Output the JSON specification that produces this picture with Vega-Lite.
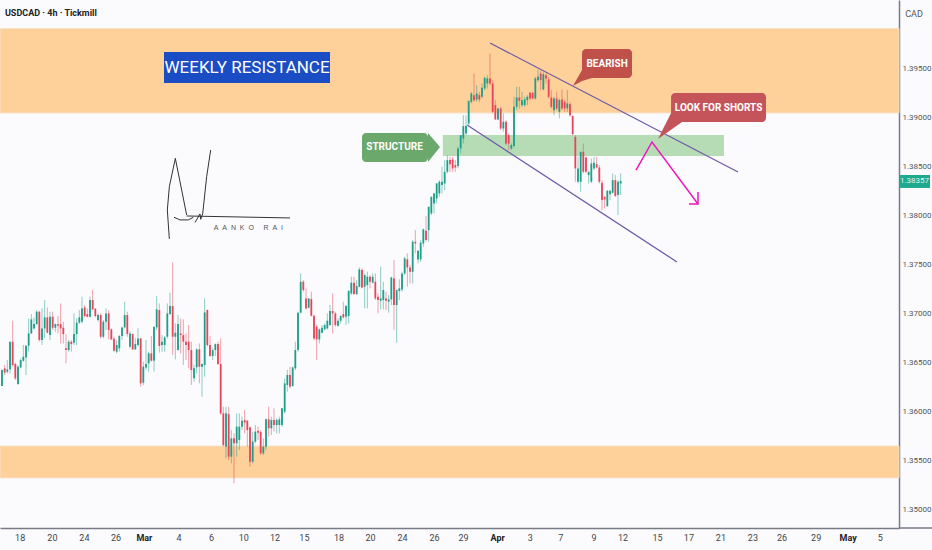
{
  "$schema": "https://vega.github.io/schema/vega-lite/v5.json",
  "width": 899,
  "height": 528,
  "padding": {"left": 0, "top": 0, "right": 33, "bottom": 22},
  "autosize": {"type": "none"},
  "background": "#fbfbfe",
  "datasets": {
    "candles": [
      {"i":0,"h":1.36435,"o":1.36265,"c":1.36428,"l":1.36265},
      {"i":1,"h":1.36479,"o":1.36445,"c":1.36401,"l":1.36377},
      {"i":2,"h":1.3653,"o":1.36411,"c":1.36435,"l":1.36394},
      {"i":3,"h":1.36717,"o":1.36435,"c":1.36717,"l":1.36394},
      {"i":4,"h":1.36931,"o":1.36717,"c":1.36479,"l":1.36462},
      {"i":5,"h":1.36503,"o":1.36489,"c":1.36343,"l":1.36326},
      {"i":6,"h":1.36479,"o":1.36285,"c":1.36462,"l":1.36275},
      {"i":7,"h":1.36547,"o":1.36455,"c":1.3653,"l":1.36445},
      {"i":8,"h":1.36683,"o":1.36523,"c":1.36564,"l":1.36513},
      {"i":9,"h":1.36683,"o":1.36557,"c":1.36676,"l":1.36377},
      {"i":10,"h":1.36955,"o":1.36676,"c":1.36802,"l":1.36615},
      {"i":11,"h":1.36999,"o":1.36802,"c":1.36945,"l":1.36795},
      {"i":12,"h":1.36965,"o":1.36853,"c":1.36897,"l":1.36843},
      {"i":13,"h":1.3704,"o":1.36897,"c":1.37023,"l":1.36887},
      {"i":14,"h":1.3703,"o":1.37023,"c":1.36734,"l":1.36717},
      {"i":15,"h":1.37057,"o":1.36734,"c":1.36853,"l":1.36683},
      {"i":16,"h":1.37142,"o":1.36853,"c":1.36965,"l":1.36751},
      {"i":17,"h":1.37067,"o":1.36965,"c":1.36809,"l":1.36802},
      {"i":18,"h":1.37023,"o":1.36785,"c":1.36972,"l":1.36734},
      {"i":19,"h":1.37023,"o":1.36972,"c":1.3686,"l":1.36836},
      {"i":20,"h":1.36904,"o":1.3686,"c":1.36897,"l":1.36819},
      {"i":21,"h":1.36979,"o":1.36894,"c":1.3688,"l":1.36802},
      {"i":22,"h":1.37108,"o":1.36897,"c":1.36853,"l":1.367},
      {"i":23,"h":1.36921,"o":1.3686,"c":1.36795,"l":1.367},
      {"i":24,"h":1.36795,"o":1.36649,"c":1.36632,"l":1.36496},
      {"i":25,"h":1.36734,"o":1.36632,"c":1.36717,"l":1.36615},
      {"i":26,"h":1.36734,"o":1.36717,"c":1.36693,"l":1.36615},
      {"i":27,"h":1.37006,"o":1.36707,"c":1.36795,"l":1.36683},
      {"i":28,"h":1.36955,"o":1.36795,"c":1.36911,"l":1.36683},
      {"i":29,"h":1.3704,"o":1.36911,"c":1.36965,"l":1.36897},
      {"i":30,"h":1.37176,"o":1.36921,"c":1.37057,"l":1.36904},
      {"i":31,"h":1.37091,"o":1.37067,"c":1.36979,"l":1.36965},
      {"i":32,"h":1.37057,"o":1.36999,"c":1.36972,"l":1.36965},
      {"i":33,"h":1.37176,"o":1.36972,"c":1.37142,"l":1.36965},
      {"i":34,"h":1.37244,"o":1.37142,"c":1.37047,"l":1.3704},
      {"i":35,"h":1.37057,"o":1.37054,"c":1.36979,"l":1.36965},
      {"i":36,"h":1.37006,"o":1.36938,"c":1.36989,"l":1.36921},
      {"i":37,"h":1.37006,"o":1.36989,"c":1.36768,"l":1.36751},
      {"i":38,"h":1.36938,"o":1.36768,"c":1.36921,"l":1.36751},
      {"i":39,"h":1.37057,"o":1.36921,"c":1.37006,"l":1.36836},
      {"i":40,"h":1.3704,"o":1.37006,"c":1.36836,"l":1.36741},
      {"i":41,"h":1.36853,"o":1.36843,"c":1.36741,"l":1.36734},
      {"i":42,"h":1.36768,"o":1.36748,"c":1.36625,"l":1.36615},
      {"i":43,"h":1.36734,"o":1.36615,"c":1.36683,"l":1.36598},
      {"i":44,"h":1.36785,"o":1.36649,"c":1.36775,"l":1.36615},
      {"i":45,"h":1.3687,"o":1.36775,"c":1.36863,"l":1.36734},
      {"i":46,"h":1.37125,"o":1.36863,"c":1.36989,"l":1.36853},
      {"i":47,"h":1.37023,"o":1.36989,"c":1.36795,"l":1.36768},
      {"i":48,"h":1.36819,"o":1.36666,"c":1.36802,"l":1.36649},
      {"i":49,"h":1.36802,"o":1.36795,"c":1.36639,"l":1.36632},
      {"i":50,"h":1.36751,"o":1.36639,"c":1.36693,"l":1.36632},
      {"i":51,"h":1.36853,"o":1.36683,"c":1.36751,"l":1.36666},
      {"i":52,"h":1.36751,"o":1.36751,"c":1.36292,"l":1.36258},
      {"i":53,"h":1.36513,"o":1.36299,"c":1.36462,"l":1.36275},
      {"i":54,"h":1.36734,"o":1.36455,"c":1.36489,"l":1.36428},
      {"i":55,"h":1.36615,"o":1.36496,"c":1.36598,"l":1.36411},
      {"i":56,"h":1.36775,"o":1.36598,"c":1.36523,"l":1.36513},
      {"i":57,"h":1.3687,"o":1.36523,"c":1.3687,"l":1.36411},
      {"i":58,"h":1.37183,"o":1.36863,"c":1.37047,"l":1.36836},
      {"i":59,"h":1.37108,"o":1.3704,"c":1.36673,"l":1.36605},
      {"i":60,"h":1.36785,"o":1.36683,"c":1.36717,"l":1.36615},
      {"i":61,"h":1.36775,"o":1.36683,"c":1.36761,"l":1.36615},
      {"i":62,"h":1.37108,"o":1.36768,"c":1.37006,"l":1.36751},
      {"i":63,"h":1.37217,"o":1.36999,"c":1.37081,"l":1.36989},
      {"i":64,"h":1.37526,"o":1.37081,"c":1.36768,"l":1.36581},
      {"i":65,"h":1.36904,"o":1.36768,"c":1.36809,"l":1.36537},
      {"i":66,"h":1.36989,"o":1.36632,"c":1.36897,"l":1.36625},
      {"i":67,"h":1.36955,"o":1.36802,"c":1.36785,"l":1.36598},
      {"i":68,"h":1.36945,"o":1.36785,"c":1.36717,"l":1.36479},
      {"i":69,"h":1.36802,"o":1.36717,"c":1.36683,"l":1.3653},
      {"i":70,"h":1.36887,"o":1.36717,"c":1.36632,"l":1.36445},
      {"i":71,"h":1.36717,"o":1.36632,"c":1.36428,"l":1.36275},
      {"i":72,"h":1.36479,"o":1.36343,"c":1.36445,"l":1.36309},
      {"i":73,"h":1.36649,"o":1.36455,"c":1.36639,"l":1.36394},
      {"i":74,"h":1.367,"o":1.36639,"c":1.36462,"l":1.36292},
      {"i":75,"h":1.36496,"o":1.36462,"c":1.36489,"l":1.36156},
      {"i":76,"h":1.37159,"o":1.36479,"c":1.37016,"l":1.3636},
      {"i":77,"h":1.37047,"o":1.3704,"c":1.36683,"l":1.36666},
      {"i":78,"h":1.36775,"o":1.36683,"c":1.36571,"l":1.36564},
      {"i":79,"h":1.36649,"o":1.36571,"c":1.36632,"l":1.3653},
      {"i":80,"h":1.367,"o":1.36632,"c":1.36693,"l":1.36571},
      {"i":81,"h":1.36717,"o":1.36693,"c":1.36489,"l":1.36479},
      {"i":82,"h":1.36751,"o":1.36489,"c":1.35986,"l":1.35969},
      {"i":83,"h":1.36054,"o":1.35986,"c":1.35663,"l":1.35646},
      {"i":84,"h":1.36054,"o":1.35646,"c":1.35986,"l":1.35527},
      {"i":85,"h":1.36054,"o":1.35979,"c":1.35544,"l":1.3551},
      {"i":86,"h":1.35816,"o":1.35544,"c":1.35731,"l":1.35476},
      {"i":87,"h":1.35782,"o":1.35731,"c":1.3568,"l":1.35272},
      {"i":88,"h":1.35986,"o":1.3568,"c":1.3585,"l":1.35544},
      {"i":89,"h":1.35986,"o":1.35714,"c":1.3585,"l":1.35612},
      {"i":90,"h":1.35952,"o":1.3585,"c":1.35911,"l":1.35816},
      {"i":91,"h":1.3602,"o":1.35918,"c":1.35891,"l":1.35782},
      {"i":92,"h":1.35918,"o":1.35911,"c":1.35816,"l":1.35646},
      {"i":93,"h":1.3585,"o":1.35843,"c":1.35493,"l":1.35442},
      {"i":94,"h":1.35799,"o":1.35493,"c":1.35697,"l":1.35476},
      {"i":95,"h":1.35867,"o":1.35697,"c":1.35799,"l":1.3568},
      {"i":96,"h":1.3585,"o":1.35809,"c":1.35789,"l":1.35714},
      {"i":97,"h":1.35816,"o":1.35796,"c":1.35578,"l":1.35561},
      {"i":98,"h":1.35731,"o":1.35578,"c":1.35646,"l":1.35561},
      {"i":99,"h":1.35935,"o":1.35646,"c":1.35925,"l":1.35612},
      {"i":100,"h":1.36054,"o":1.35925,"c":1.35833,"l":1.35748},
      {"i":101,"h":1.35952,"o":1.35833,"c":1.35918,"l":1.35765},
      {"i":102,"h":1.36037,"o":1.35918,"c":1.35867,"l":1.35799},
      {"i":103,"h":1.35935,"o":1.35867,"c":1.35918,"l":1.35782},
      {"i":104,"h":1.35952,"o":1.35867,"c":1.35925,"l":1.35782},
      {"i":105,"h":1.36037,"o":1.35867,"c":1.36037,"l":1.3585},
      {"i":106,"h":1.36343,"o":1.36003,"c":1.36292,"l":1.35986},
      {"i":107,"h":1.36428,"o":1.36275,"c":1.36377,"l":1.36207},
      {"i":108,"h":1.36462,"o":1.36377,"c":1.36258,"l":1.36241},
      {"i":109,"h":1.36462,"o":1.36265,"c":1.36455,"l":1.36258},
      {"i":110,"h":1.36717,"o":1.36445,"c":1.36632,"l":1.36428},
      {"i":111,"h":1.37023,"o":1.36632,"c":1.37013,"l":1.36615},
      {"i":112,"h":1.37414,"o":1.37013,"c":1.37329,"l":1.37006},
      {"i":113,"h":1.37346,"o":1.37329,"c":1.37244,"l":1.37227},
      {"i":114,"h":1.37261,"o":1.37159,"c":1.37057,"l":1.37047},
      {"i":115,"h":1.37159,"o":1.37064,"c":1.37159,"l":1.37057},
      {"i":116,"h":1.37227,"o":1.37152,"c":1.36982,"l":1.36972},
      {"i":117,"h":1.36989,"o":1.36982,"c":1.36751,"l":1.36734},
      {"i":118,"h":1.36887,"o":1.3687,"c":1.36741,"l":1.3653},
      {"i":119,"h":1.36853,"o":1.36741,"c":1.36843,"l":1.367},
      {"i":120,"h":1.36887,"o":1.36809,"c":1.3686,"l":1.36802},
      {"i":121,"h":1.36904,"o":1.36843,"c":1.36887,"l":1.36836},
      {"i":122,"h":1.37006,"o":1.36853,"c":1.36931,"l":1.36843},
      {"i":123,"h":1.37091,"o":1.36887,"c":1.3703,"l":1.36877},
      {"i":124,"h":1.3721,"o":1.3703,"c":1.37006,"l":1.36802},
      {"i":125,"h":1.37023,"o":1.37006,"c":1.36887,"l":1.3687},
      {"i":126,"h":1.36955,"o":1.3688,"c":1.36931,"l":1.3687},
      {"i":127,"h":1.36989,"o":1.36931,"c":1.36979,"l":1.36904},
      {"i":128,"h":1.37125,"o":1.36999,"c":1.36965,"l":1.36955},
      {"i":129,"h":1.37091,"o":1.36972,"c":1.37081,"l":1.36887},
      {"i":130,"h":1.37244,"o":1.36979,"c":1.37234,"l":1.36904},
      {"i":131,"h":1.3738,"o":1.3721,"c":1.37319,"l":1.37193},
      {"i":132,"h":1.3738,"o":1.37319,"c":1.37203,"l":1.37193},
      {"i":133,"h":1.37346,"o":1.37203,"c":1.37285,"l":1.37193},
      {"i":134,"h":1.37475,"o":1.37278,"c":1.37455,"l":1.37271},
      {"i":135,"h":1.37465,"o":1.37448,"c":1.37271,"l":1.37261},
      {"i":136,"h":1.37414,"o":1.37278,"c":1.37397,"l":1.37057},
      {"i":137,"h":1.37431,"o":1.37295,"c":1.3738,"l":1.37057},
      {"i":138,"h":1.37397,"o":1.3738,"c":1.37329,"l":1.37261},
      {"i":139,"h":1.37414,"o":1.37319,"c":1.3738,"l":1.37312},
      {"i":140,"h":1.37414,"o":1.37329,"c":1.37159,"l":1.37142},
      {"i":141,"h":1.3721,"o":1.37176,"c":1.37142,"l":1.37006},
      {"i":142,"h":1.37482,"o":1.37135,"c":1.37159,"l":1.37047},
      {"i":143,"h":1.37329,"o":1.37142,"c":1.37244,"l":1.37047},
      {"i":144,"h":1.37227,"o":1.37159,"c":1.37135,"l":1.3704},
      {"i":145,"h":1.37193,"o":1.37125,"c":1.37149,"l":1.37013},
      {"i":146,"h":1.3738,"o":1.37149,"c":1.37373,"l":1.37091},
      {"i":147,"h":1.3755,"o":1.37363,"c":1.37091,"l":1.36836},
      {"i":148,"h":1.37251,"o":1.37091,"c":1.37244,"l":1.36707},
      {"i":149,"h":1.37353,"o":1.37234,"c":1.37261,"l":1.37142},
      {"i":150,"h":1.37431,"o":1.37251,"c":1.37414,"l":1.37227},
      {"i":151,"h":1.37584,"o":1.37414,"c":1.37567,"l":1.37397},
      {"i":152,"h":1.37618,"o":1.37557,"c":1.37475,"l":1.37278},
      {"i":153,"h":1.37499,"o":1.37475,"c":1.37431,"l":1.37312},
      {"i":154,"h":1.37754,"o":1.37431,"c":1.37737,"l":1.37312},
      {"i":155,"h":1.37856,"o":1.37737,"c":1.3772,"l":1.37618},
      {"i":156,"h":1.37652,"o":1.37557,"c":1.37645,"l":1.37516},
      {"i":157,"h":1.37754,"o":1.37557,"c":1.37727,"l":1.37533},
      {"i":158,"h":1.37873,"o":1.3772,"c":1.37863,"l":1.37686},
      {"i":159,"h":1.37999,"o":1.37849,"c":1.37754,"l":1.37737},
      {"i":160,"h":1.38094,"o":1.37856,"c":1.38094,"l":1.37737},
      {"i":161,"h":1.38196,"o":1.38026,"c":1.38196,"l":1.38009},
      {"i":162,"h":1.38237,"o":1.38128,"c":1.3823,"l":1.38026},
      {"i":163,"h":1.38332,"o":1.38179,"c":1.38332,"l":1.38128},
      {"i":164,"h":1.38366,"o":1.3823,"c":1.38349,"l":1.38196},
      {"i":165,"h":1.38502,"o":1.38315,"c":1.38349,"l":1.3823},
      {"i":166,"h":1.3857,"o":1.38332,"c":1.38451,"l":1.38264},
      {"i":167,"h":1.38621,"o":1.38451,"c":1.3857,"l":1.38434},
      {"i":168,"h":1.38604,"o":1.3857,"c":1.38529,"l":1.38451},
      {"i":169,"h":1.38604,"o":1.38577,"c":1.38485,"l":1.38451},
      {"i":170,"h":1.3857,"o":1.38519,"c":1.38495,"l":1.38451},
      {"i":171,"h":1.38706,"o":1.38509,"c":1.38689,"l":1.38485},
      {"i":172,"h":1.38825,"o":1.38689,"c":1.38825,"l":1.38638},
      {"i":173,"h":1.39029,"o":1.38791,"c":1.38917,"l":1.3874},
      {"i":174,"h":1.39029,"o":1.38842,"c":1.38917,"l":1.38825},
      {"i":175,"h":1.39182,"o":1.38944,"c":1.39172,"l":1.38927},
      {"i":176,"h":1.39267,"o":1.39165,"c":1.3925,"l":1.39148},
      {"i":177,"h":1.39454,"o":1.39233,"c":1.39182,"l":1.39165},
      {"i":178,"h":1.39335,"o":1.39189,"c":1.3925,"l":1.39165},
      {"i":179,"h":1.39267,"o":1.39233,"c":1.39189,"l":1.39165},
      {"i":180,"h":1.39352,"o":1.39216,"c":1.39308,"l":1.39199},
      {"i":181,"h":1.3942,"o":1.39301,"c":1.3941,"l":1.39284},
      {"i":182,"h":1.39437,"o":1.39352,"c":1.39403,"l":1.39301},
      {"i":183,"h":1.39658,"o":1.39403,"c":1.39352,"l":1.39335},
      {"i":184,"h":1.39386,"o":1.39352,"c":1.39063,"l":1.39046},
      {"i":185,"h":1.39182,"o":1.39131,"c":1.38985,"l":1.38978},
      {"i":186,"h":1.39097,"o":1.38985,"c":1.39097,"l":1.38978},
      {"i":187,"h":1.39114,"o":1.39097,"c":1.38893,"l":1.38876},
      {"i":188,"h":1.39046,"o":1.38893,"c":1.38961,"l":1.38859},
      {"i":189,"h":1.38978,"o":1.38961,"c":1.3874,"l":1.38723},
      {"i":190,"h":1.38842,"o":1.38825,"c":1.3874,"l":1.38672},
      {"i":191,"h":1.3874,"o":1.38689,"c":1.38723,"l":1.38672},
      {"i":192,"h":1.39216,"o":1.38713,"c":1.39114,"l":1.38699},
      {"i":193,"h":1.39318,"o":1.39114,"c":1.39209,"l":1.3908},
      {"i":194,"h":1.39318,"o":1.39209,"c":1.39175,"l":1.39097},
      {"i":195,"h":1.39267,"o":1.39131,"c":1.39182,"l":1.39114},
      {"i":196,"h":1.39216,"o":1.39131,"c":1.39189,"l":1.39114},
      {"i":197,"h":1.39233,"o":1.39182,"c":1.39216,"l":1.39131},
      {"i":198,"h":1.39267,"o":1.39257,"c":1.39199,"l":1.39182},
      {"i":199,"h":1.39267,"o":1.39257,"c":1.39199,"l":1.39189},
      {"i":200,"h":1.3942,"o":1.39199,"c":1.39403,"l":1.39189},
      {"i":201,"h":1.39495,"o":1.39386,"c":1.3942,"l":1.39369},
      {"i":202,"h":1.39481,"o":1.39454,"c":1.39386,"l":1.39284},
      {"i":203,"h":1.39471,"o":1.39291,"c":1.39447,"l":1.39284},
      {"i":204,"h":1.39454,"o":1.39437,"c":1.39403,"l":1.39352},
      {"i":205,"h":1.3942,"o":1.39393,"c":1.39216,"l":1.39199},
      {"i":206,"h":1.39284,"o":1.39209,"c":1.39114,"l":1.39097},
      {"i":207,"h":1.39216,"o":1.3908,"c":1.39199,"l":1.39029},
      {"i":208,"h":1.39267,"o":1.39199,"c":1.39097,"l":1.3908},
      {"i":209,"h":1.39199,"o":1.39063,"c":1.39182,"l":1.38995},
      {"i":210,"h":1.39291,"o":1.39189,"c":1.39097,"l":1.3908},
      {"i":211,"h":1.39182,"o":1.39165,"c":1.39097,"l":1.39063},
      {"i":212,"h":1.39284,"o":1.39097,"c":1.39148,"l":1.39063},
      {"i":213,"h":1.39165,"o":1.39141,"c":1.39029,"l":1.39012},
      {"i":214,"h":1.39029,"o":1.39019,"c":1.38835,"l":1.38825},
      {"i":215,"h":1.38825,"o":1.38808,"c":1.38485,"l":1.38349},
      {"i":216,"h":1.38604,"o":1.38349,"c":1.38485,"l":1.38332},
      {"i":217,"h":1.38655,"o":1.38349,"c":1.38655,"l":1.38247},
      {"i":218,"h":1.3874,"o":1.38655,"c":1.38451,"l":1.38434},
      {"i":219,"h":1.38604,"o":1.38597,"c":1.38451,"l":1.38434},
      {"i":220,"h":1.38451,"o":1.38417,"c":1.38451,"l":1.38332},
      {"i":221,"h":1.38587,"o":1.38349,"c":1.38536,"l":1.38339},
      {"i":222,"h":1.38604,"o":1.38485,"c":1.38543,"l":1.38468},
      {"i":223,"h":1.38604,"o":1.38529,"c":1.38495,"l":1.38485},
      {"i":224,"h":1.38519,"o":1.38495,"c":1.38349,"l":1.38332},
      {"i":225,"h":1.38366,"o":1.38339,"c":1.38162,"l":1.3806},
      {"i":226,"h":1.38196,"o":1.38196,"c":1.38169,"l":1.38077},
      {"i":227,"h":1.38264,"o":1.38101,"c":1.38257,"l":1.38094},
      {"i":228,"h":1.38264,"o":1.38223,"c":1.38257,"l":1.38162},
      {"i":229,"h":1.38434,"o":1.38237,"c":1.38366,"l":1.3823},
      {"i":230,"h":1.38417,"o":1.38366,"c":1.38203,"l":1.38196},
      {"i":231,"h":1.38366,"o":1.38213,"c":1.38349,"l":1.38009},
      {"i":232,"h":1.38434,"o":1.38332,"c":1.38357,"l":1.38213}
    ],
    "zones": [
      {"i":-0.75,"i2":336.375,"p":1.39913,"p2":1.39051},
      {"i":-0.75,"i2":336.375,"p":1.35653,"p2":1.35327}
    ],
    "structure_zone": [
      {"i":165.3,"i2":270.75,"p":1.38827,"p2":1.38612}
    ],
    "trend": [
      {"id":"upper","n":0,"i":183,"p":1.39765},
      {"id":"upper","n":1,"i":276,"p":1.38449},
      {"id":"lower","n":0,"i":174.4,"p":1.38929},
      {"id":"lower","n":1,"i":253.1,"p":1.37531}
    ],
    "arrow": [
      {"id":"path","n":0,"i":237.75,"p":1.38469},
      {"id":"path","n":1,"i":243.75,"p":1.38755},
      {"id":"path","n":2,"i":261,"p":1.38122},
      {"id":"head","n":0,"i":257.6,"p":1.38122},
      {"id":"head","n":1,"i":261,"p":1.38122},
      {"id":"head","n":2,"i":261,"p":1.38245}
    ],
    "signature": [
      {"id":"s1","n":0,"i":62.75,"p":1.37766},
      {"id":"s1","n":1,"i":62,"p":1.38061},
      {"id":"s1","n":2,"i":62.75,"p":1.38299},
      {"id":"s1","n":3,"i":65,"p":1.38588},
      {"id":"s1","n":4,"i":69.25,"p":1.3801},
      {"id":"s2","n":0,"i":64.5,"p":1.37987},
      {"id":"s2","n":1,"i":66.75,"p":1.3796},
      {"id":"s2","n":2,"i":69.875,"p":1.3796},
      {"id":"s2","n":3,"i":71.75,"p":1.37987},
      {"id":"s3","n":0,"i":72.375,"p":1.37933},
      {"id":"s3","n":1,"i":74.25,"p":1.38021},
      {"id":"s3","n":2,"i":74.5,"p":1.37966},
      {"id":"s3","n":3,"i":75.25,"p":1.38021},
      {"id":"s3","n":4,"i":76.75,"p":1.38401},
      {"id":"s3","n":5,"i":78.25,"p":1.38673},
      {"id":"s4","n":0,"i":69.25,"p":1.38},
      {"id":"s4","n":1,"i":108,"p":1.3798}
    ],
    "callouts": [
      {"id":"bearish","label":"BEARISH","i":217.5,"i2":236.25,"p":1.39704,"p2":1.39408,"ic":226.9,"pc":1.39556},
      {"id":"look","label":"LOOK FOR SHORTS","i":250.9,"i2":286.5,"p":1.39255,"p2":1.38959,"ic":268.7,"pc":1.39107},
      {"id":"structure","label":"STRUCTURE","i":135,"i2":159.75,"p":1.38847,"p2":1.38551,"ic":147.2,"pc":1.38699}
    ],
    "pointers": [
      {"id":"bearish","i":214.1,"p":1.39327,"p2":1.39327},
      {"id":"bearish","i":217.5,"p":1.3949,"p2":1.39378},
      {"id":"bearish","i":221.25,"p":1.39408,"p2":1.39408},
      {"id":"look","i":246,"p":1.38786,"p2":1.38786},
      {"id":"look","i":250.9,"p":1.39051,"p2":1.3888},
      {"id":"look","i":255,"p":1.38959,"p2":1.38959},
      {"id":"structure","i":159.75,"p":1.38847,"p2":1.38551},
      {"id":"structure","i":164.25,"p":1.38704,"p2":1.38704}
    ],
    "weekly": [
      {"label":"WEEKLY RESISTANCE","i":60.75,"i2":123,"p":1.39673,"p2":1.39357,"ic":91.9,"pc":1.39515}
    ],
    "header": [{"label":"USDCAD · 4h · Tickmill","i":1.1,"p":1.40071}],
    "sign_name": [{"label":"A\u00a0\u00a0A\u00a0\u00a0N\u00a0\u00a0K\u00a0\u00a0O\u00a0\u00a0\u00a0\u00a0\u00a0R\u00a0\u00a0A\u00a0\u00a0I","i":92.4,"p":1.37878}],
    "currency": [{"label":"CAD","i":342,"p":1.40061}],
    "last_price": [{"label":"1.38357","i":336.6,"i2":348,"p":1.38418,"p2":1.38286,"ic":342.2,"pc":1.38357}],
    "x_line": [{"i":336.375,"i2":349.5,"p":1.34816}],
    "day_ticks": [
      {"label":"18","i":6.8,"p":1.34714},{"label":"20","i":18.9,"p":1.34714},{"label":"24","i":30.9,"p":1.34714},{"label":"26","i":42.75,"p":1.34714},
      {"label":"4","i":66.4,"p":1.34714},{"label":"6","i":78.6,"p":1.34714},{"label":"10","i":90.7,"p":1.34714},{"label":"12","i":102.4,"p":1.34714},
      {"label":"15","i":113.4,"p":1.34714},{"label":"18","i":126.4,"p":1.34714},{"label":"20","i":138.2,"p":1.34714},{"label":"24","i":150.2,"p":1.34714},
      {"label":"26","i":162.2,"p":1.34714},{"label":"29","i":173.1,"p":1.34714},{"label":"3","i":198.1,"p":1.34714},{"label":"7","i":209.5,"p":1.34714},
      {"label":"9","i":222,"p":1.34714},{"label":"12","i":232.9,"p":1.34714},{"label":"15","i":245.8,"p":1.34714},{"label":"17","i":257.6,"p":1.34714},
      {"label":"21","i":269.6,"p":1.34714},{"label":"23","i":281.6,"p":1.34714},{"label":"26","i":292.5,"p":1.34714},{"label":"29","i":305.3,"p":1.34714},
      {"label":"5","i":329.4,"p":1.34714}
    ],
    "month_ticks": [
      {"label":"Mar","i":53.4,"p":1.34714},{"label":"Apr","i":185.9,"p":1.34714},{"label":"May","i":317.3,"p":1.34714}
    ]
  },
  "encoding": {
    "x": {
      "field": "i",
      "type": "quantitative",
      "scale": {"domain": [-0.75, 336.375], "nice": false, "zero": false},
      "axis": {
        "title": null,
        "orient": "bottom",
        "grid": false,
        "ticks": false,
        "labels": false,
        "domainColor": "#787b86",
        "domainWidth": 1.5
      }
    },
    "y": {
      "field": "p",
      "type": "quantitative",
      "scale": {"domain": [1.34816, 1.40204], "nice": false, "zero": false},
      "axis": {
        "title": null,
        "orient": "right",
        "grid": false,
        "ticks": false,
        "domainColor": "#787b86",
        "domainWidth": 1.5,
        "labelFont": "Roboto",
        "labelFontSize": 8,
        "labelColor": "#555555",
        "labelPadding": 3,
        "labelOverlap": false,
        "values": [1.35,1.355,1.36,1.365,1.37,1.375,1.38,1.385,1.39,1.395],
        "format": ".5f"
      }
    }
  },
  "layer": [
    {
      "data": {"name": "zones"},
      "mark": {"type": "rect", "color": "#fdd199", "stroke": "#f6e2cb", "strokeWidth": 1},
      "encoding": {"x2": {"field": "i2"}, "y2": {"field": "p2"}}
    },
    {
      "data": {"name": "structure_zone"},
      "mark": {"type": "rect", "color": "#b6dcb6"},
      "encoding": {"x2": {"field": "i2"}, "y2": {"field": "p2"}}
    },
    {
      "data": {"name": "candles"},
      "mark": {"type": "rule", "strokeWidth": 1, "opacity": 0.5},
      "encoding": {
        "y": {"field": "h", "type": "quantitative", "scale": {"domain": [1.34816, 1.40204], "nice": false, "zero": false}, "axis": {"title": null, "orient": "right", "labelOverlap": false}},
        "y2": {"field": "l"},
        "color": {"condition": {"test": "datum.c >= datum.o", "value": "#1f9e89"}, "value": "#e8455a"}
      }
    },
    {
      "data": {"name": "candles"},
      "mark": {"type": "rule", "strokeWidth": 1.8},
      "encoding": {
        "y": {"field": "o", "type": "quantitative", "scale": {"domain": [1.34816, 1.40204], "nice": false, "zero": false}, "axis": {"title": null, "orient": "right", "labelOverlap": false}},
        "y2": {"field": "c"},
        "color": {"condition": {"test": "datum.c >= datum.o", "value": "#1f9e89"}, "value": "#e8455a"}
      }
    },
    {
      "data": {"name": "trend"},
      "mark": {"type": "line", "color": "#6f5aa8", "strokeWidth": 1.3},
      "encoding": {"detail": {"field": "id"}, "order": {"field": "n"}}
    },
    {
      "data": {"name": "arrow"},
      "mark": {"type": "line", "color": "#ee16bd", "strokeWidth": 1.5},
      "encoding": {"detail": {"field": "id"}, "order": {"field": "n"}}
    },
    {
      "data": {"name": "signature"},
      "mark": {"type": "line", "color": "#333333", "strokeWidth": 1},
      "encoding": {"detail": {"field": "id"}, "order": {"field": "n"}}
    },
    {
      "data": {"name": "pointers"},
      "mark": {"type": "area"},
      "encoding": {
        "y2": {"field": "p2"},
        "detail": {"field": "id"},
        "color": {"field": "id", "type": "nominal", "legend": null, "scale": {"domain": ["bearish", "look", "structure"], "range": ["#c0504a", "#c4545a", "#6aa86c"]}}
      }
    },
    {
      "data": {"name": "callouts"},
      "mark": {"type": "rect", "cornerRadius": 4},
      "encoding": {
        "x2": {"field": "i2"},
        "y2": {"field": "p2"},
        "color": {"field": "id", "type": "nominal", "legend": null, "scale": {"domain": ["bearish", "look", "structure"], "range": ["#c0504a", "#c4545a", "#6aa86c"]}}
      }
    },
    {
      "data": {"name": "callouts"},
      "mark": {"type": "text", "color": "#ffffff", "font": "Roboto", "fontSize": 10, "fontWeight": "bold"},
      "encoding": {
        "x": {"field": "ic", "type": "quantitative", "scale": {"domain": [-0.75, 336.375], "nice": false, "zero": false}, "axis": {"title": null, "orient": "bottom", "labels": false}},
        "y": {"field": "pc", "type": "quantitative", "scale": {"domain": [1.34816, 1.40204], "nice": false, "zero": false}, "axis": {"title": null, "orient": "right", "labelOverlap": false}},
        "text": {"field": "label"}
      }
    },
    {
      "data": {"name": "weekly"},
      "mark": {"type": "rect", "color": "#1a4cc4"},
      "encoding": {"x2": {"field": "i2"}, "y2": {"field": "p2"}}
    },
    {
      "data": {"name": "weekly"},
      "mark": {"type": "text", "color": "#ffffff", "font": "Roboto", "fontSize": 17},
      "encoding": {
        "x": {"field": "ic", "type": "quantitative", "scale": {"domain": [-0.75, 336.375], "nice": false, "zero": false}, "axis": {"title": null, "orient": "bottom", "labels": false}},
        "y": {"field": "pc", "type": "quantitative", "scale": {"domain": [1.34816, 1.40204], "nice": false, "zero": false}, "axis": {"title": null, "orient": "right", "labelOverlap": false}},
        "text": {"field": "label"}
      }
    },
    {
      "data": {"name": "header"},
      "mark": {"type": "text", "align": "left", "color": "#222222", "font": "Roboto", "fontSize": 9, "fontWeight": "bold"},
      "encoding": {"text": {"field": "label"}}
    },
    {
      "data": {"name": "sign_name"},
      "mark": {"type": "text", "color": "#555555", "font": "Liberation Sans", "fontSize": 7},
      "encoding": {"text": {"field": "label"}}
    },
    {
      "data": {"name": "currency"},
      "mark": {"type": "text", "color": "#555555", "font": "Roboto", "fontSize": 9},
      "encoding": {"text": {"field": "label"}}
    },
    {
      "data": {"name": "last_price"},
      "mark": {"type": "rect", "color": "#1fa98e"},
      "encoding": {"x2": {"field": "i2"}, "y2": {"field": "p2"}}
    },
    {
      "data": {"name": "last_price"},
      "mark": {"type": "text", "color": "#dff5ef", "font": "Roboto", "fontSize": 8},
      "encoding": {
        "x": {"field": "ic", "type": "quantitative", "scale": {"domain": [-0.75, 336.375], "nice": false, "zero": false}, "axis": {"title": null, "orient": "bottom", "labels": false}},
        "y": {"field": "pc", "type": "quantitative", "scale": {"domain": [1.34816, 1.40204], "nice": false, "zero": false}, "axis": {"title": null, "orient": "right", "labelOverlap": false}},
        "text": {"field": "label"}
      }
    },
    {
      "data": {"name": "x_line"},
      "mark": {"type": "rule", "color": "#787b86", "strokeWidth": 1.5},
      "encoding": {"x2": {"field": "i2"}}
    },
    {
      "data": {"name": "day_ticks"},
      "mark": {"type": "text", "color": "#444444", "font": "Roboto", "fontSize": 9},
      "encoding": {"text": {"field": "label"}}
    },
    {
      "data": {"name": "month_ticks"},
      "mark": {"type": "text", "color": "#222222", "font": "Roboto", "fontSize": 9, "fontWeight": "bold"},
      "encoding": {"text": {"field": "label"}}
    }
  ],
  "config": {"view": {"stroke": "transparent"}}
}
